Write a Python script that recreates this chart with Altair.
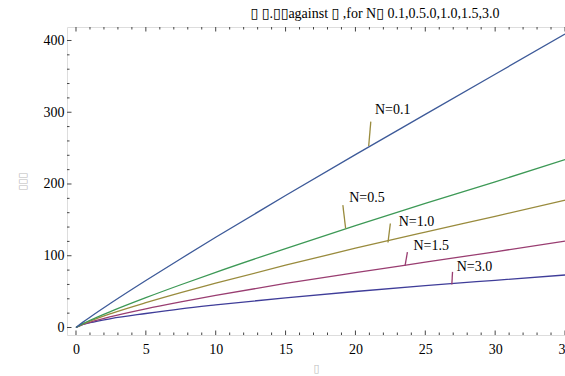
import altair as alt
import pandas as pd

# ---- data ----
x_vals = [0, 0.5, 1, 2.5, 5, 7.5, 10, 15, 20, 25, 30, 35]
n01 = [0, 7.5, 14.4, 34.1, 65.5, 95.9, 125.7, 184, 241, 297, 353, 409]
n05 = [0, 5.4, 10.0, 22.5, 41.6, 59.6, 76.9, 110, 142, 173, 203, 234]
n10 = [0, 5.0, 8.9, 19.3, 34.5, 48.5, 61.7, 86.8, 110.5, 133, 155, 177.4]
n15 = [0, 4.2, 7.3, 15.0, 25.9, 35.6, 44.7, 61.5, 76.5, 91, 105.5, 120.4]
n30 = [0, 4.2, 6.7, 12.4, 19.5, 26.0, 31.5, 41.4, 50.2, 58.3, 65.8, 73.2]

series_names = ["N=3.0", "N=1.5", "N=1.0", "N=0.5", "N=0.1"]
series_vals = [n30, n15, n10, n05, n01]
series_colors = ["#3F3D99", "#993D71", "#998B3D", "#3D9956", "#3D5A99"]

# callout labels
lab_text = ["N=0.1", "N=0.5", "N=1.0", "N=1.5", "N=3.0"]
lab_x = [21.40, 19.55, 23.10, 24.15, 27.25]
lab_y = [302.5, 180.5, 147.0, 113.0, 84.5]
lead_x1 = [21.10, 19.10, 22.50, 23.72, 26.95]
lead_y1 = [287.0, 170.5, 145.0, 105.0, 77.5]
lead_x2 = [20.95, 19.30, 22.33, 23.55, 26.90]
lead_y2 = [253.0, 138.0, 118.5, 86.0, 60.0]
lead_colors = ["#998B3D", "#998B3D", "#998B3D", "#993D71", "#993D71"]

x_major = [0, 5, 10, 15, 20, 25, 30, 35]
x_minor = [v for v in range(0, 36) if v % 5 != 0]
y_major = [0, 100, 200, 300, 400]
y_minor = [v for v in range(0, 420, 20) if v % 100 != 0]

X_DOM = [-0.644, 35.0]
Y_DOM = [-10.45, 418.8]
W, H = 498, 308
FONT = "Liberation Serif, DejaVu Serif, serif"

rows = []
for name, vals in zip(series_names, series_vals):
    for xv, yv in zip(x_vals, vals):
        rows.append({"x": xv, "y": yv, "series": name})
df = pd.DataFrame(rows)

xs = alt.Scale(domain=X_DOM, nice=False, zero=False)
ys = alt.Scale(domain=Y_DOM, nice=False, zero=False)

lines = alt.Chart(df).mark_line(strokeWidth=1.3, clip=True, interpolate="monotone").encode(
    x=alt.X("x:Q", scale=xs, axis=alt.Axis(
        values=x_major, ticks=False, domain=False, grid=False, labelFlush=False,
        labelFont=FONT, labelFontSize=14, labelColor="#000", labelPadding=7,
        title="▯", titleFont="DejaVu Sans", titleFontSize=11, titleFontWeight="normal",
        titleColor="#bbbbbb", titlePadding=6)),
    y=alt.Y("y:Q", scale=ys, axis=alt.Axis(
        values=y_major, ticks=False, domain=False, grid=False, labelFlush=False,
        labelFont=FONT, labelFontSize=14, labelColor="#000", labelPadding=3,
        title="▯▯▯", titleFont="DejaVu Sans", titleFontSize=11, titleFontWeight="normal",
        titleColor="#bbbbbb", titlePadding=16)),
    color=alt.Color("series:N", scale=alt.Scale(domain=series_names, range=series_colors), legend=None),
    detail="series:N",
)

lab_df = pd.DataFrame({"t": lab_text, "x": lab_x, "y": lab_y})
labels = alt.Chart(lab_df).mark_text(
    align="left", baseline="middle", font=FONT, fontSize=14, color="#000"
).encode(x=alt.X("x:Q", scale=xs), y=alt.Y("y:Q", scale=ys), text="t:N")

lead_df = pd.DataFrame({"x": lead_x1, "y": lead_y1, "x2": lead_x2, "y2": lead_y2,
                        "c": lead_colors, "t": lab_text})
leaders = alt.Chart(lead_df).mark_rule(strokeWidth=1.3).encode(
    x=alt.X("x:Q", scale=xs), y=alt.Y("y:Q", scale=ys),
    x2="x2:Q", y2="y2:Q",
    color=alt.Color("c:N", scale=None),
)

TICK_C = "#444444"
xmaj_df = pd.DataFrame({"v": x_major})
xmin_df = pd.DataFrame({"v": x_minor})
ymaj_df = pd.DataFrame({"v": y_major})
ymin_df = pd.DataFrame({"v": y_minor})

def xticks(d, ln):
    b = alt.Chart(d).mark_rule(color=TICK_C, strokeWidth=1).encode(
        x=alt.X("v:Q", scale=xs), y=alt.value(H), y2=alt.value(H - ln))
    t = alt.Chart(d).mark_rule(color=TICK_C, strokeWidth=1).encode(
        x=alt.X("v:Q", scale=xs), y=alt.value(0), y2=alt.value(ln))
    return [b, t]

def yticks(d, ln):
    return [alt.Chart(d).mark_rule(color=TICK_C, strokeWidth=1).encode(
        y=alt.Y("v:Q", scale=ys), x=alt.value(0), x2=alt.value(ln))]

tick_layers = xticks(xmaj_df, 4.5) + xticks(xmin_df, 2.5) + yticks(ymaj_df, 4.5) + yticks(ymin_df, 2.5)

title_text = "▯ ▯.▯▯against ▯ ,for N▯ 0.1,0.5.0,1.0,1.5,3.0"

chart = alt.layer(lines, leaders, labels, *tick_layers).properties(
    width=W, height=H,
    title=alt.TitleParams(title_text, font=FONT, fontSize=14, fontWeight="normal",
                          color="#000", anchor="middle", dx=59, offset=6),
    padding={"left": 67, "top": 27, "right": 0, "bottom": 41},
    autosize=alt.AutoSizeParams(type="none"),
).configure_view(stroke="#7a7a7a", strokeWidth=1.2).configure(background="white")

chart.save("out.html", embed_options={"renderer": "svg", "actions": False})
